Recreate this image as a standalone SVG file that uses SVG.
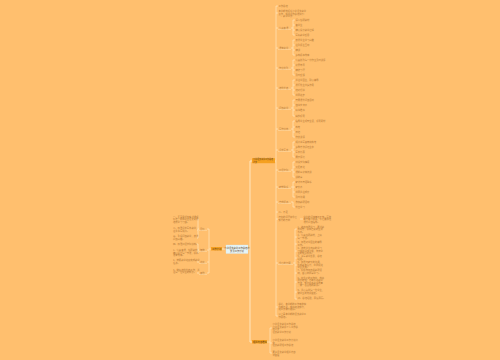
<svg xmlns="http://www.w3.org/2000/svg" width="500" height="360" viewBox="0 0 500 360">
<style>
.t{font-family:"Noto Sans CJK SC","Liberation Sans",sans-serif;font-size:2.3px;fill:#b57838}
.d{font-family:"Noto Sans CJK SC","Liberation Sans",sans-serif;font-size:2.3px;fill:#5a3a1a}
.s{font-size:2px}
.c{stroke:#FFE6BE;stroke-width:0.7;fill:none}
.tr{stroke:#FFE6BE;stroke-width:1;fill:none}
.u{stroke:#FFE6BE;stroke-width:0.5}
.on{fill:#F5A020}
</style>
<rect width="500" height="360" fill="#FFBF6E"/>
<g id="connectors">
<path class="tr" d="M250,161V342M248,249H250M250,161H252M250,342H252M226,249H222"/>
<path class="c" d="M275,161H276M276,6V316M276,6H278M276,13H278M276,28H278M276,48H278M276,68H278M276,88H278M276,108H278M276,129H278M276,150H278M276,170H278M276,187H278M276,202H278M276,212H278M276,219H278M276,263H278M276,307H278M276,316H278"/>
<path class="c" d="M291,28H293M293,20V35M293,20H295M293,25H295M293,30H295M293,35H295"/>
<path class="c" d="M291,48H293M293,40V55M293,40H295M293,45H295M293,50H295M293,55H295"/>
<path class="c" d="M291,68H293M293,60V75M293,60H295M293,65H295M293,70H295M293,75H295"/>
<path class="c" d="M291,88H293M293,80V95M293,80H295M293,85H295M293,90H295M293,95H295"/>
<path class="c" d="M291,108H293M293,100V116M293,100H295M293,105H295M293,110H295M293,116H295"/>
<path class="c" d="M291,129H293M293,121V137M293,121H295M293,127H295M293,132H295M293,137H295"/>
<path class="c" d="M291,150H293M293,142V157M293,142H295M293,147H295M293,152H295M293,157H295"/>
<path class="c" d="M291,170H293M293,162V177M293,162H295M293,167H295M293,172H295M293,177H295"/>
<path class="c" d="M291,187H293M293,182V197M293,182H295M293,187H295M293,192H295M293,197H295"/>
<path class="c" d="M291,202H293M293,202V207M293,207H295"/>
<path class="c" d="M300,219H303"/>
<path class="c" d="M293,263H295M295,229V299M295,229H297M295,237H297M295,244H297M295,251H297M295,258H297M295,265H297M295,273H297M295,282H297M295,292H297M295,299H297"/>
<path class="c" d="M267,342H270M270,328V353M270,328H272M270,343H272M270,353H272"/>
<path class="c" d="M211,249H209M209,229V273M209,229H207M209,250H207M209,262H207M209,273H207"/>
<path class="c" d="M199,229H198M198,219V238M198,219H197M198,230H197M198,238H197"/>
<path class="c" d="M199,250H198M198,244V253M198,244H197M198,253H197"/>
<path class="c" d="M199,262H197M199,273H197"/>
</g>
<g id="center"><rect x="226" y="245" width="22" height="8.5" fill="#E6F4F6" stroke="#cfe8ee" stroke-width="0.3"/>
<text class="d" x="237" y="248.5" text-anchor="middle">小学语文教学工作总结范</text>
<text class="d" x="237" y="251.5" text-anchor="middle">文及工作计划</text></g>
<g id="left-node"><rect class="on" x="211" y="247" width="11" height="3.5"/><text class="d" x="212" y="249.6">工作计划</text></g>
<g id="top-node"><rect class="on" x="252" y="158.2" width="23" height="5"/><text class="d s" x="253" y="160.2">小学语文教学工作总结</text><text class="d s" x="253" y="162.6">范文</text></g>
<g id="bottom-node"><rect class="on" x="252" y="340" width="15" height="3.5"/><text class="d" x="253" y="342.5">相关内容推荐</text></g>
<g id="left-sub">
<text class="t" x="200" y="229.5">目标</text><line class="u" x1="199" y1="230.3" x2="207" y2="230.3"/>
<text class="t" x="200" y="250.5">措施</text><line class="u" x1="199" y1="251.3" x2="207" y2="251.3"/>
<text class="t" x="200" y="262.5">进度</text><line class="u" x1="199" y1="263.3" x2="207" y2="263.3"/>
<text class="t" x="200" y="273.5">其他</text><line class="u" x1="199" y1="274.3" x2="207" y2="274.3"/>
<text class="t" x="173" y="217.5"><tspan x="173">一、全面贯彻落实新课程</tspan><tspan x="173" dy="2.7">标准，提高学生语文素养</tspan><tspan x="173" dy="2.7">培养学习习惯。</tspan></text>
<text class="t" x="173" y="229"><tspan x="173">二、加强识字写字教学，</tspan><tspan x="173" dy="2.7">注重书写规范。</tspan></text>
<text class="t" x="173" y="237.3"><tspan x="173">三、重视阅读教学，激发</tspan><tspan x="173" dy="2.7">阅读兴趣。</tspan></text>
<text class="t" x="173" y="244.5">四、加强口语交际训练。</text>
<text class="t" x="173" y="251"><tspan x="173">1、认真备课，钻研教材，</tspan><tspan x="173" dy="2.7">精心设计每一节课，提高</tspan><tspan x="173" dy="2.7">课堂效率。</tspan></text>
<text class="t" x="173" y="261"><tspan x="173">2、按照教学进度完成教学</tspan><tspan x="173" dy="2.7">任务。</tspan></text>
<text class="t" x="173" y="270.5"><tspan x="173">3、做好培优补差工作，关</tspan><tspan x="173" dy="2.7">注每一位学生的成长。</tspan></text>
</g>
<g id="right-top">
<text class="t" x="278.5" y="6.5">工作总结</text>
<text class="t" x="278.5" y="12"><tspan x="278.5">本学期我担任小学语文教学</tspan><tspan x="278.5" dy="2.6">工作，现将工作总结如下：</tspan><tspan x="278.5" dy="2.6">一、教学工作</tspan></text>
</g>
<g id="right-subs">
<text class="t" x="279" y="28.5">认真备课</text><line class="u" x1="278" y1="29.3" x2="291" y2="29.3"/>
<text class="t" x="279" y="48.5">课堂教学</text><line class="u" x1="278" y1="49.3" x2="291" y2="49.3"/>
<text class="t" x="279" y="68.5">作业批改</text><line class="u" x1="278" y1="69.3" x2="291" y2="69.3"/>
<text class="t" x="279" y="88.5">培优补差</text><line class="u" x1="278" y1="89.3" x2="291" y2="89.3"/>
<text class="t" x="279" y="108.5">阅读教学</text><line class="u" x1="278" y1="109.3" x2="291" y2="109.3"/>
<text class="t" x="279" y="129.5">写作训练</text><line class="u" x1="278" y1="130.3" x2="291" y2="130.3"/>
<text class="t" x="279" y="150.5">识字写字</text><line class="u" x1="278" y1="151.3" x2="291" y2="151.3"/>
<text class="t" x="279" y="170.5">口语交际</text><line class="u" x1="278" y1="171.3" x2="291" y2="171.3"/>
<text class="t" x="279" y="187.5">家校联系</text><line class="u" x1="278" y1="188.3" x2="291" y2="188.3"/>
<text class="t" x="279" y="202.5">自我提高</text><line class="u" x1="278" y1="203.3" x2="291" y2="203.3"/>
<text class="t" x="278.5" y="212.5">二、不足</text>
<text class="t" x="278.5" y="218"><tspan x="278.5">存在的问题和今后</tspan><tspan x="278.5" dy="2.6">努力的方向</tspan></text>
<text class="t" x="303.5" y="217.5"><tspan x="303.5">学生的阅读量还不够，写作</tspan><tspan x="303.5" dy="2.6">能力有待提高，今后要加强</tspan><tspan x="303.5" dy="2.6">课外阅读指导。</tspan></text>
<text class="t" x="279" y="263.5">今后的打算</text><line class="u" x1="278" y1="264.3" x2="293" y2="264.3"/>
</g>
<g id="right-leaves">
<text class="t" x="295.5" y="20.8">深入钻研教材</text>
<text class="t" x="295.5" y="25.8">备学生</text>
<text class="t" x="295.5" y="30.8">精心设计教学过程</text>
<text class="t" x="295.5" y="35.8">写好教学反思</text>
<text class="t" x="295.5" y="40.8">激发学生学习兴趣</text>
<text class="t" x="295.5" y="45.8">注重师生互动</text>
<text class="t" x="295.5" y="50.8">精讲</text>
<text class="t" x="295.5" y="55.8">多练提高效率</text>
<text class="t" x="295.5" y="60.8">认真批改每一份作业及时讲评</text>
<text class="t" x="295.5" y="65.8">分层布置</text>
<text class="t" x="295.5" y="70.8">精选习题</text>
<text class="t" x="295.5" y="75.8">及时反馈</text>
<text class="t" x="295.5" y="80.8">关注学困生，耐心辅导</text>
<text class="t" x="295.5" y="85.8">发挥优生带头作用</text>
<text class="t" x="295.5" y="90.8">结对帮扶</text>
<text class="t" x="295.5" y="95.8">共同进步</text>
<text class="t" x="295.5" y="100.8">开展课外阅读活动</text>
<text class="t" x="295.5" y="105.8">读书交流会</text>
<text class="t" x="295.5" y="110.8">好书推荐</text>
<text class="t" x="295.5" y="116.8">摘抄积累</text>
<text class="t" x="295.5" y="121.8">指导学生观察生活，积累素材</text>
<text class="t" x="295.5" y="127.8">练笔</text>
<text class="t" x="295.5" y="132.8">日记</text>
<text class="t" x="295.5" y="137.8">作文讲评</text>
<text class="t" x="295.5" y="142.8">规范书写姿势和执笔</text>
<text class="t" x="295.5" y="147.8">多种方法识记生字</text>
<text class="t" x="295.5" y="152.8">写字比赛</text>
<text class="t" x="295.5" y="157.8">展示评比</text>
<text class="t" x="295.5" y="162.8">创设交际情境</text>
<text class="t" x="295.5" y="167.8">大胆表达</text>
<text class="t" x="295.5" y="172.8">课前三分钟演讲</text>
<text class="t" x="295.5" y="177.8">讲故事</text>
<text class="t" x="295.5" y="182.8">家访与电话联系</text>
<text class="t" x="295.5" y="187.8">家长会</text>
<text class="t" x="295.5" y="192.8">共同关注成长</text>
<text class="t" x="295.5" y="197.8">及时沟通</text>
<text class="t" x="295.5" y="202.8">参加教研活动</text>
<text class="t" x="295.5" y="207.8">外出学习</text>
<text class="t" x="297.5" y="227.8"><tspan x="297.5">1、继续加强学习，更新教</tspan><tspan x="297.5" dy="2.6">育观念，提高自身的业务</tspan><tspan x="297.5" dy="2.6">水平。</tspan></text>
<text class="t" x="297.5" y="236"><tspan x="297.5">2、认真钻研教材，上好</tspan><tspan x="297.5" dy="2.6">每一节课。</tspan></text>
<text class="t" x="297.5" y="243"><tspan x="297.5">3、加强对学困生的辅导</tspan><tspan x="297.5" dy="2.6">工作。</tspan></text>
<text class="t" x="297.5" y="249"><tspan x="297.5">4、培养学生良好的学习</tspan><tspan x="297.5" dy="2.6">习惯和阅读习惯，丰富学</tspan><tspan x="297.5" dy="2.6">生的知识积累。</tspan></text>
<text class="t" x="297.5" y="257"><tspan x="297.5">5、多写教学反思，总结</tspan><tspan x="297.5" dy="2.6">经验。</tspan></text>
<text class="t" x="297.5" y="263"><tspan x="297.5">6、加强与家长的沟通，</tspan><tspan x="297.5" dy="2.6">形成教育合力，共同促进</tspan><tspan x="297.5" dy="2.6">学生发展。</tspan></text>
<text class="t" x="297.5" y="271"><tspan x="297.5">7、积极参加各级教研活</tspan><tspan x="297.5" dy="2.6">动，虚心向同事学习。</tspan></text>
<text class="t" x="297.5" y="278.5"><tspan x="297.5">8、在今后的工作中，我将</tspan><tspan x="297.5" dy="2.6">扬长避短，不断改进教学</tspan><tspan x="297.5" dy="2.6">方法，努力提高教学质量</tspan><tspan x="297.5" dy="2.6">，做一名合格的教师。</tspan></text>
<text class="t" x="297.5" y="291"><tspan x="297.5">9、关心爱护每一位学生，</tspan><tspan x="297.5" dy="2.6">做学生的良师益友。</tspan></text>
<text class="t" x="297.5" y="299">10、总结经验，再接再厉。</text>
<text class="t" x="278.5" y="305"><tspan x="278.5">总之，本学期的工作有收获</tspan><tspan x="278.5" dy="2.6">也有不足，我将继续努力，</tspan><tspan x="278.5" dy="2.6">把工作做得更好。</tspan></text>
<text class="t" x="278.5" y="315"><tspan x="278.5">以上是本学期的语文教学工</tspan><tspan x="278.5" dy="2.6">作总结。</tspan></text>
</g>
<g id="bottom-leaves">
<text class="t" x="272.5" y="325"><tspan x="272.5">小学语文教学工作总结</tspan><tspan x="272.5" dy="2.6">小学语文教师个人工作总</tspan><tspan x="272.5" dy="2.6">结范文</tspan><tspan x="272.5" dy="2.6">语文教学工作计划</tspan></text>
<text class="t" x="272.5" y="341"><tspan x="272.5">小学语文教学工作计划范</tspan><tspan x="272.5" dy="2.6">文</tspan><tspan x="272.5" dy="2.6">语文教研组工作总结</tspan></text>
<text class="t" x="272.5" y="353"><tspan x="272.5">更多语文教学相关内容</tspan><tspan x="272.5" dy="2.6">请查看</tspan></text>
</g>
</svg>
